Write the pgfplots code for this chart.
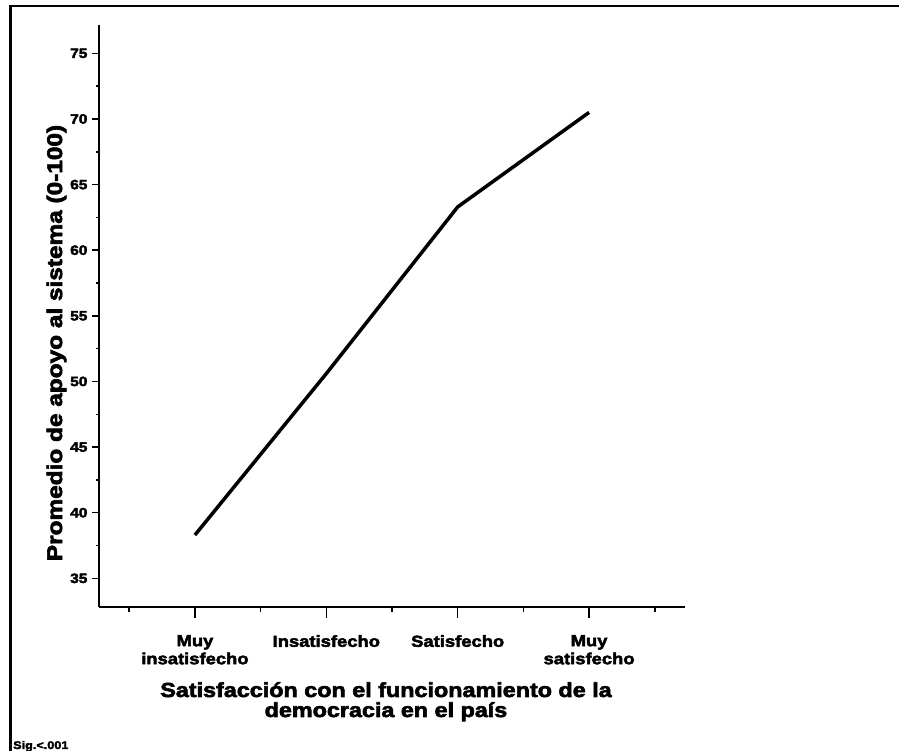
\documentclass[border=0pt]{standalone}
\usepackage{fontspec}
\setmainfont{Liberation Sans}
\newfontfamily\blk{Liberation Sans Bold}[FakeStretch=1.15,FakeBold=3]
\usepackage{pgfplots}
\pgfplotsset{compat=1.18}
\begin{document}
\begin{tikzpicture}[x=1pt,y=1pt]
\path[use as bounding box] (0,0) rectangle (899,751);
% frame
\draw[line width=3pt] (10.5,0) -- (10.5,746);
\draw[line width=2pt] (9,745) -- (899,745);
% main axis (y axis + data)
\begin{axis}[
  at={(99pt,144.3pt)}, anchor=south west,
  scale only axis, width=586pt, height=581.7pt,
  xmin=-0.73, xmax=3.73, ymin=32.84, ymax=77.16,
  axis x line*=bottom, axis y line*=left,
  xtick=\empty,
  ytick={35,40,45,50,55,60,65,70,75},
  minor ytick={37.5,42.5,47.5,52.5,57.5,62.5,67.5,72.5},
  tick align=outside,
  major tick length=7pt, minor tick length=3.5pt,
  axis line style={line width=1.8pt},
  every tick/.style={black, line width=1.5pt},
  /pgf/number format/assume math mode=true,
  yticklabel style={font=\blk\fontsize{13.5}{13.5}\selectfont, xshift=-1pt},
  clip=false,
]
\addplot[black, line width=3.5pt, line join=round] coordinates {
  (0,38.3) (1,50.6) (2,63.3) (3,70.5)
};
\end{axis}
% x ticks axis
\begin{axis}[
  at={(99pt,144.3pt)}, anchor=south west,
  scale only axis, width=586pt, height=581.7pt,
  xmin=-0.73, xmax=3.73, ymin=32.84, ymax=77.16,
  axis x line*=bottom, hide y axis,
  xtick={0,1,2,3},
  xticklabels={{Muy\\insatisfecho},{Insatisfecho},{Satisfecho},{Muy\\satisfecho}},
  minor xtick={-0.5,0.5,1.5,2.5,3.5},
  tick align=outside,
  major tick length=11pt, minor tick length=5pt,
  axis line style={line width=1.8pt},
  every tick/.style={black, line width=1.5pt},
  xticklabel style={font=\blk\fontsize{16}{18}\selectfont, align=center, anchor=north, yshift=-14pt},
]
\end{axis}
% axis titles
\node[rotate=90, anchor=base, inner sep=0, font=\blk\fontsize{21.2}{21.2}\selectfont] at (62,408) {Promedio de apoyo al sistema (0-100)};
\node[anchor=base, inner sep=0, font=\blk\fontsize{20.3}{20.3}\selectfont] at (386,54) {Satisfacción con el funcionamiento de la};
\node[anchor=base, inner sep=0, font=\blk\fontsize{20.3}{20.3}\selectfont] at (386,34) {democracia en el país};
\node[anchor=base west, inner sep=0, font=\blk\fontsize{11}{11}\selectfont] at (13,2) {Sig.<.001};
\end{tikzpicture}
\end{document}
